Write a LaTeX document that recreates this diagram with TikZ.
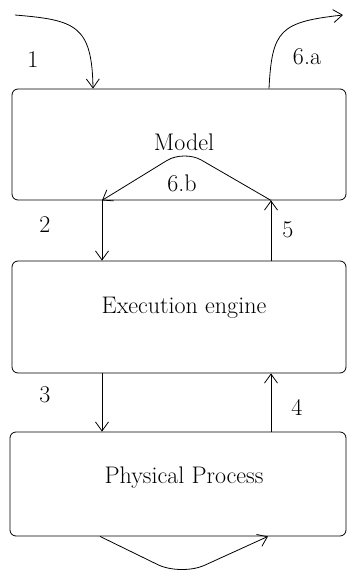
\documentclass[tikz,border=0pt]{standalone}
\usepackage{tikz}
\usetikzlibrary{arrows.meta, positioning, calc}

\tikzset{
  box/.style={draw, rounded corners=6pt, line width=0.8pt, inner sep=0pt},
  flow/.style={line width=0.8pt, -{Straight Barb[length=9pt, width=13pt]}},
  txt/.style={font=\fontsize{24}{28}\selectfont, inner sep=0pt},
}

\begin{document}
\begin{tikzpicture}[x=1pt, y=1pt]
\useasboundingbox (0,0) rectangle (347,-574);

\node[box, minimum width=334pt, minimum height=111pt] (model) at (179,-144.5) {};
\node[box, minimum width=334pt, minimum height=112pt] (engine) at (179,-317) {};
\node[box, minimum width=336pt, minimum height=104pt] (process) at (178,-484) {};

\node[txt] (modeltxt) at (184,-142) {Model};
\node[txt] (enginetxt) at (184,-308) {Execution engine};
\node[txt] (processtxt) at (184,-478) {Physical Process};

\coordinate (in) at (15,-15);
\coordinate (out) at (343,-15);
\coordinate (mleft) at ([xshift=-77pt]model.south);
\coordinate (mright) at ([xshift=92pt]model.south);
\coordinate (eleftup) at ([xshift=-77pt]engine.north);
\coordinate (erightup) at ([xshift=92pt]engine.north);
\coordinate (eleftdn) at ([xshift=-77pt]engine.south);
\coordinate (erightdn) at ([xshift=92pt]engine.south);
\coordinate (pleft) at ([xshift=-76pt]process.north);
\coordinate (pright) at ([xshift=93pt]process.north);

% 1 and 6.a
\draw[flow] (in) .. controls (75,-20) and (92,-25) .. ([xshift=-86pt]model.north);
\draw[flow] ([xshift=90pt]model.north) .. controls (272,-30) and (280,-22) .. (out);
% 6.b
\draw[flow, rounded corners=20pt] (mright) -- (184,-150) -- (mleft);
% 2, 5, 3, 4
\draw[flow] (mleft) -- (eleftup);
\draw[flow] (erightup) -- (mright);
\draw[flow] (eleftdn) -- (pleft);
\draw[flow] (pright) -- (erightdn);
% bottom loop
\draw[flow, rounded corners=26pt] ([xshift=-78pt]process.south) -- (181,-576) -- ([xshift=90pt]process.south);

\node[txt] (lbla) at (33,-60) {1};
\node[txt] (lblb) at (307,-57) {6.a};
\node[txt] (lblc) at (182,-183) {6.b};
\node[txt] (lbld) at (45,-225) {2};
\node[txt] (lble) at (288,-230) {5};
\node[txt] (lblf) at (45,-395) {3};
\node[txt] (lblg) at (297,-407) {4};
\end{tikzpicture}
\end{document}
